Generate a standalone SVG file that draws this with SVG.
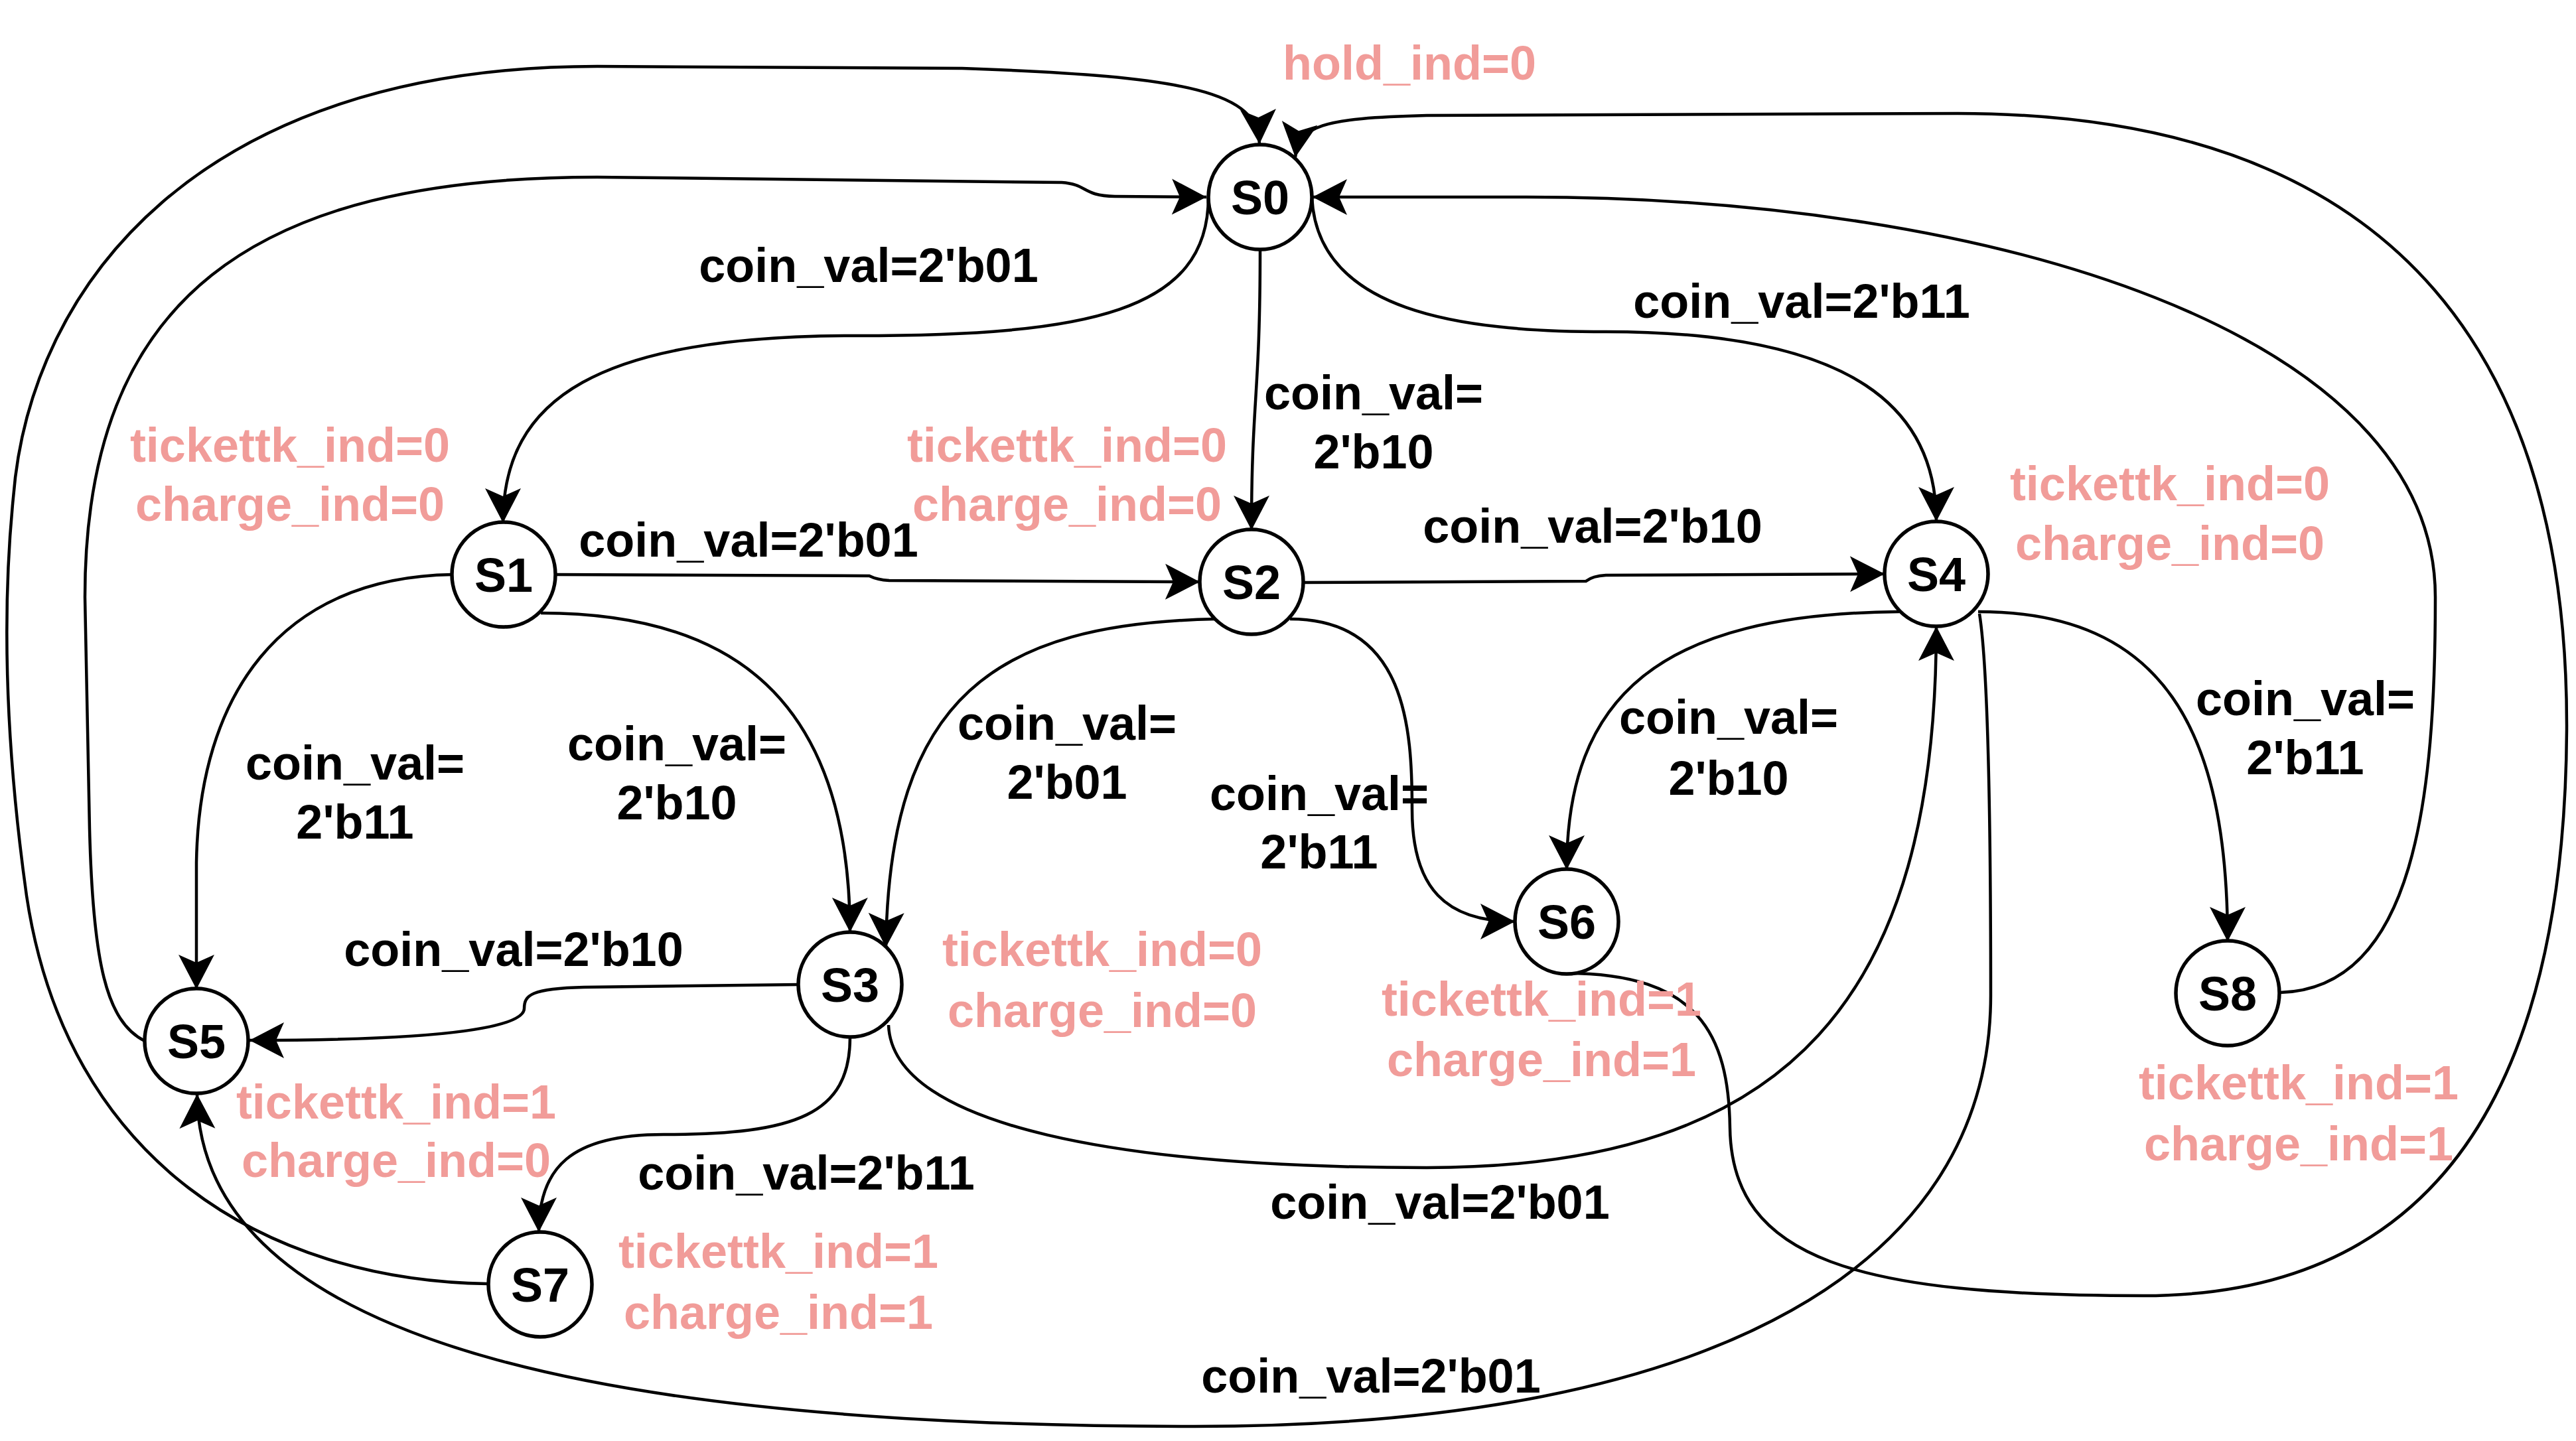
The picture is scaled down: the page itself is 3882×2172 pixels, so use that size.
<svg xmlns="http://www.w3.org/2000/svg" width="3882" height="2172" viewBox="0 0 3882 2172">
<style>
text{font-family:"Liberation Sans",Arial,sans-serif;font-weight:bold;font-size:72px;text-anchor:middle}
.lbl{fill:#000}
.pk{fill:#F19C99}
.edge{fill:none;stroke:#000;stroke-width:4.5;marker-end:url(#arr)}
.node ellipse{fill:#fff;stroke:#000;stroke-width:5.5}
</style>
<defs>
<marker id="arr" markerUnits="userSpaceOnUse" markerWidth="64" markerHeight="64" viewBox="-58 -32 64 64" refX="0" refY="0" orient="auto"><path d="M0,0 L-52,-27 L-40,0 L-52,27 Z" fill="#000"/></marker>
</defs>
<rect width="3882" height="2172" fill="#fff"/>
<g id="connectors">
<path id="e-s0-s1" class="edge" d="M1821 297 C1821 470 1640 506 1290 506 C900 506 758 600 758 788"/>
<path id="e-s0-s2" class="edge" d="M1899 376 C1899 600 1886 600 1886 799"/>
<path id="e-s0-s4" class="edge" d="M1977 297 C1985 470 2200 500 2420 500 C2800 500 2918 620 2918 786"/>
<path id="e-s1-s2" class="edge" d="M837 866 L1310 868 Q1322 874 1340 875 L1808 877"/>
<path id="e-s2-s4" class="edge" d="M1964 878 L2390 876 Q2400 868 2420 867 L2840 865"/>
<path id="e-s1-s5" class="edge" d="M682 866 C420 870 300 1050 296 1300 L296 1491"/>
<path id="e-s1-s3" class="edge" d="M815 924 C1100 924 1280 1050 1281 1405"/>
<path id="e-s2-s3" class="edge" d="M1832 933 C1500 940 1340 1050 1335 1428"/>
<path id="e-s2-s6" class="edge" d="M1944 933 C2120 933 2128 1100 2128 1220 C2128 1340 2180 1389 2283 1389"/>
<path id="e-s4-s6" class="edge" d="M2862 922 C2500 925 2361 1050 2361 1311"/>
<path id="e-s4-s8" class="edge" d="M2981 922 C3260 922 3357 1100 3357 1419"/>
<path id="e-s8-s0" class="edge" d="M3436 1496 C3640 1490 3670 1200 3670 900 C3670 500 3000 297 2300 297 L1978 297"/>
<path id="e-s6-s0" class="edge" d="M2361 1467 C2560 1467 2605 1560 2607 1700 C2610 1900 2800 1953 3230 1953 C3700 1953 3865 1600 3868 1100 C3870 570 3640 171 2950 171 L2150 174 C1990 178 1958 190 1952 237"/>
<path id="e-s3-s4" class="edge" d="M1339 1545 C1345 1700 1700 1760 2150 1760 C2700 1760 2918 1500 2918 944"/>
<path id="e-s4-s5" class="edge" d="M2983 925 C2995 1000 3000 1200 3000 1500 C3000 1900 2600 2150 1800 2150 C1000 2150 300 2050 297 1649"/>
<path id="e-s3-s5" class="edge" d="M1203 1484 L880 1488 C800 1490 790 1500 790 1520 C790 1545 700 1568 376 1568"/>
<path id="e-s3-s7" class="edge" d="M1281 1563 C1281 1680 1200 1710 1000 1710 C860 1710 812 1760 812 1857"/>
<path id="e-s5-s0" class="edge" d="M218 1569 C160 1540 140 1450 135 1250 L128 900 C128 450 380 267 900 267 L1600 275 C1640 278 1630 295 1680 296 L1818 297"/>
<path id="e-s7-s0" class="edge" d="M735 1935 C400 1930 100 1750 40 1350 C5 1100 5 900 20 750 C45 430 300 100 900 100 L1450 103 C1800 115 1895 140 1898 217"/>
</g>
<g id="S0" class="node"><ellipse cx="1899" cy="297" rx="78" ry="79"/><text x="1899" y="323">S0</text></g>
<g id="S1" class="node"><ellipse cx="759" cy="866" rx="78" ry="79"/><text x="759" y="892">S1</text></g>
<g id="S2" class="node"><ellipse cx="1886" cy="877" rx="78" ry="79"/><text x="1886" y="903">S2</text></g>
<g id="S3" class="node"><ellipse cx="1281" cy="1484" rx="78" ry="79"/><text x="1281" y="1510">S3</text></g>
<g id="S4" class="node"><ellipse cx="2918" cy="865" rx="78" ry="79"/><text x="2918" y="891">S4</text></g>
<g id="S5" class="node"><ellipse cx="296" cy="1569" rx="78" ry="79"/><text x="296" y="1595">S5</text></g>
<g id="S6" class="node"><ellipse cx="2361" cy="1389" rx="78" ry="79"/><text x="2361" y="1415">S6</text></g>
<g id="S7" class="node"><ellipse cx="814" cy="1936" rx="78" ry="79"/><text x="814" y="1962">S7</text></g>
<g id="S8" class="node"><ellipse cx="3357" cy="1497" rx="78" ry="79"/><text x="3357" y="1523">S8</text></g>
<g id="labels">
<text class="pk" x="2124" y="120">hold_ind=0</text>
<text class="lbl" x="1309" y="425">coin_val=2'b01</text>
<text class="lbl" x="2715" y="479">coin_val=2'b11</text>
<text class="lbl" x="2070" y="617">coin_val=</text>
<text class="lbl" x="2070" y="706">2'b10</text>
<text class="pk" x="437" y="696">tickettk_ind=0</text>
<text class="pk" x="437" y="785">charge_ind=0</text>
<text class="pk" x="1608" y="696">tickettk_ind=0</text>
<text class="pk" x="1608" y="785">charge_ind=0</text>
<text class="lbl" x="1128" y="839">coin_val=2'b01</text>
<text class="pk" x="3270" y="754">tickettk_ind=0</text>
<text class="pk" x="3270" y="844">charge_ind=0</text>
<text class="lbl" x="2400" y="818">coin_val=2'b10</text>
<text class="lbl" x="535" y="1175">coin_val=</text>
<text class="lbl" x="535" y="1264">2'b11</text>
<text class="lbl" x="1020" y="1146">coin_val=</text>
<text class="lbl" x="1020" y="1235">2'b10</text>
<text class="lbl" x="1608" y="1115">coin_val=</text>
<text class="lbl" x="1608" y="1204">2'b01</text>
<text class="lbl" x="774" y="1456">coin_val=2'b10</text>
<text class="pk" x="1661" y="1456">tickettk_ind=0</text>
<text class="pk" x="1661" y="1548">charge_ind=0</text>
<text class="pk" x="597" y="1686">tickettk_ind=1</text>
<text class="pk" x="597" y="1774">charge_ind=0</text>
<text class="lbl" x="1215" y="1793">coin_val=2'b11</text>
<text class="pk" x="1173" y="1911">tickettk_ind=1</text>
<text class="pk" x="1173" y="2003">charge_ind=1</text>
<text class="lbl" x="2066" y="2099">coin_val=2'b01</text>
<text class="lbl" x="1988" y="1221">coin_val=</text>
<text class="lbl" x="1988" y="1309">2'b11</text>
<text class="lbl" x="2605" y="1106">coin_val=</text>
<text class="lbl" x="2605" y="1198">2'b10</text>
<text class="lbl" x="3474" y="1078">coin_val=</text>
<text class="lbl" x="3474" y="1167">2'b11</text>
<text class="pk" x="2323" y="1531">tickettk_ind=1</text>
<text class="pk" x="2323" y="1622">charge_ind=1</text>
<text class="pk" x="3464" y="1657">tickettk_ind=1</text>
<text class="pk" x="3464" y="1749">charge_ind=1</text>
<text class="lbl" x="2170" y="1837">coin_val=2'b01</text>
</g>
</svg>
